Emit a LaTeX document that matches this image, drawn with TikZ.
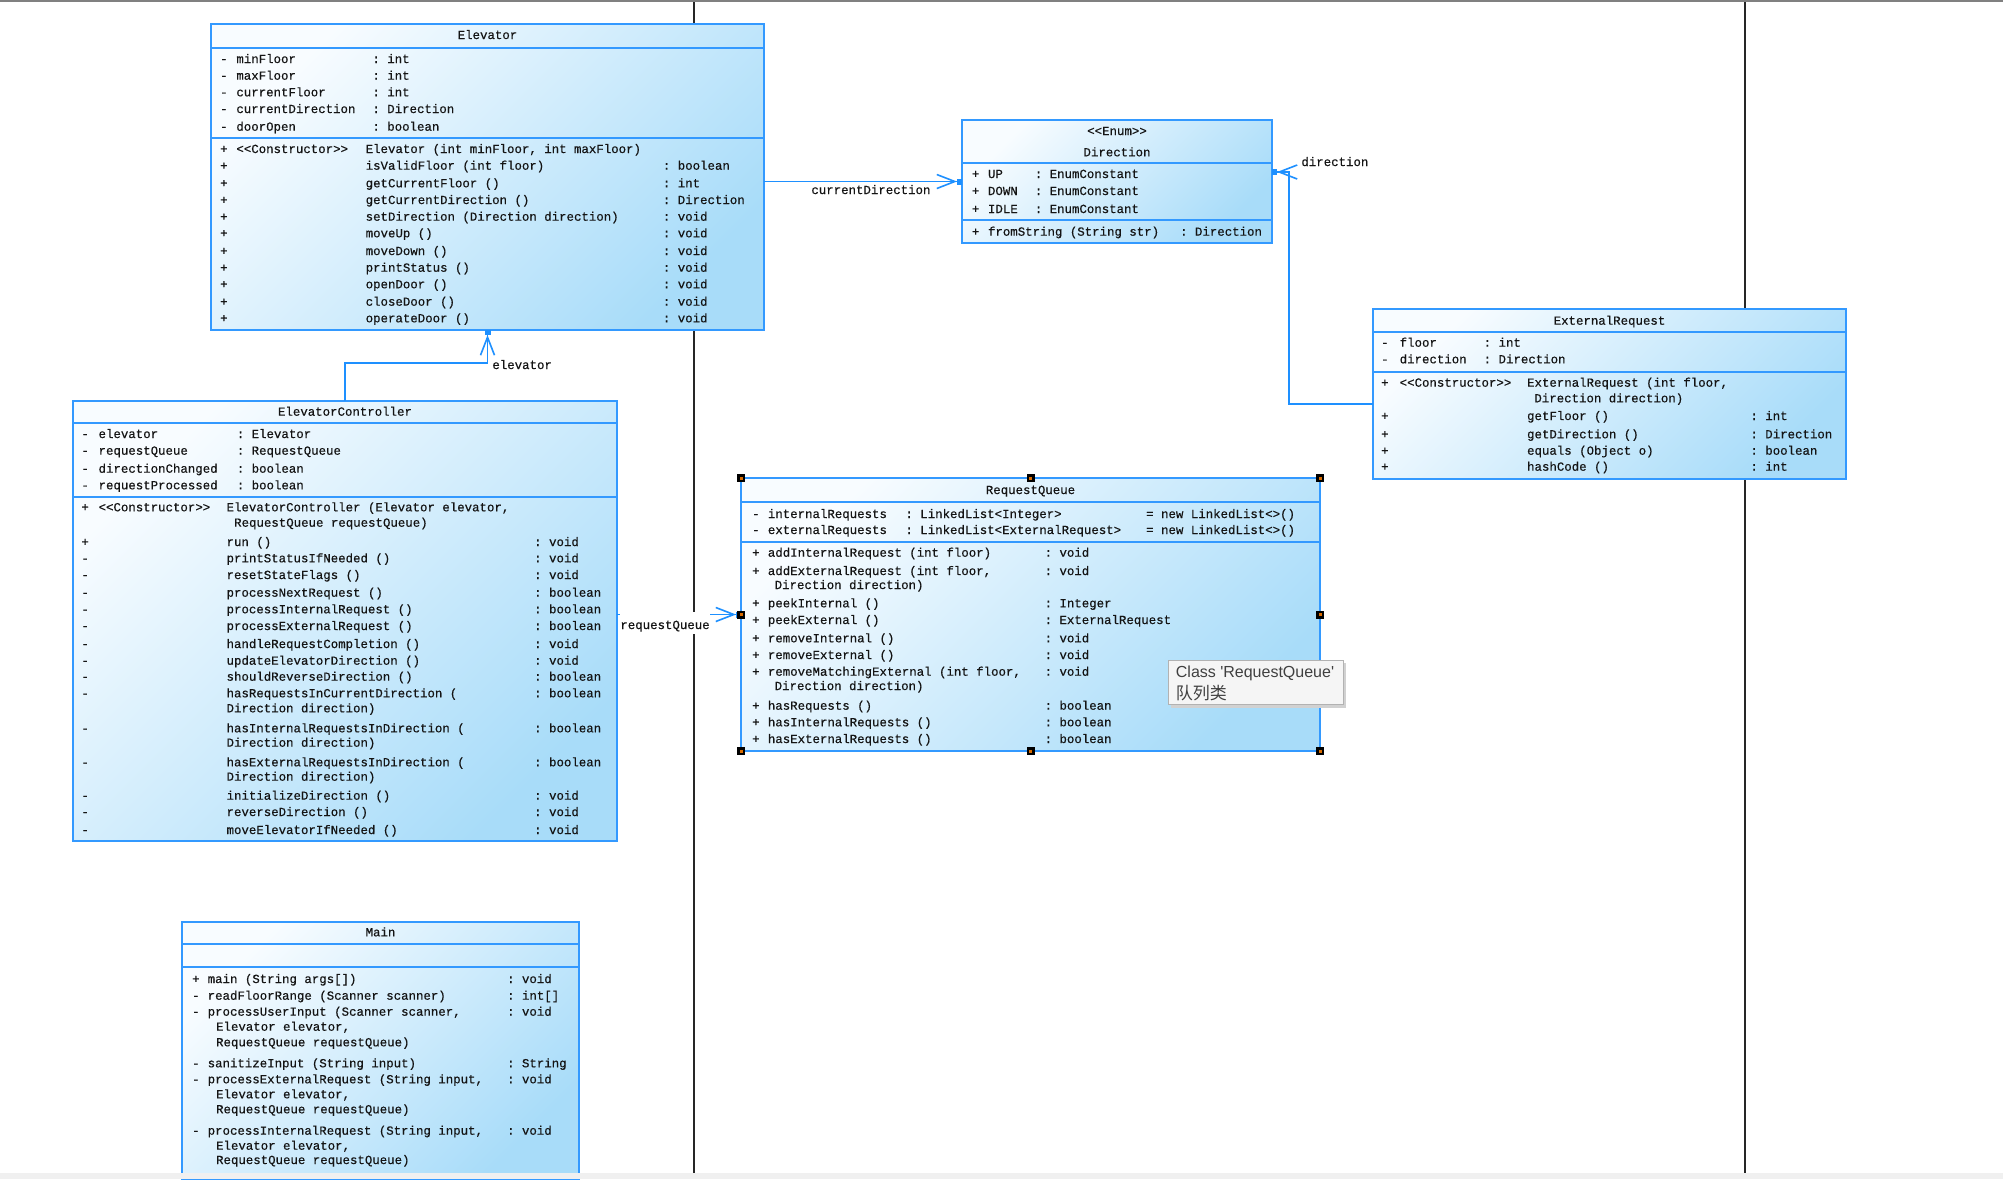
\documentclass[tikz,border=0pt]{standalone}
\usepackage{fontspec}
\setmainfont{Liberation Sans}
\setmonofont{Liberation Mono}[FakeBold=0.4]
\newfontfamily\cjkfont{Noto Sans CJK SC}
\usetikzlibrary{arrows.meta,calc}
\definecolor{ublue}{RGB}{51,153,255}
\definecolor{uline}{RGB}{30,144,255}
\definecolor{ucA}{RGB}{248,252,255}
\definecolor{ucB}{RGB}{168,220,249}
\definecolor{utext}{RGB}{20,20,20}
\newcounter{rowc}
\newcommand\utxt[3]{\stepcounter{rowc}\node[txt] (t\therowc) at (#1,{#2+4}) {#3};}
\newcommand\uttl[3]{\stepcounter{rowc}\node[ttl] (t\therowc) at (#1,{#2+4}) {#3};}
\newcommand\urow[4]{\utxt{\colV}{#1}{#2}\utxt{\colN}{#1}{#3}\ifx\relax#4\relax\else\utxt{\colR}{#1}{#4}\fi}
\begin{document}
\begin{tikzpicture}[x=0.5pt,y=-0.5pt,
  txt/.style={font=\ttfamily\fontsize{6.2}{7}\selectfont, text=utext, anchor=base west, inner sep=0pt},
  ttl/.style={txt, anchor=base},
  classbox/.style={draw=ublue, line width=1pt, top color=ucA, bottom color=ucB, shading angle=45, anchor=north west, inner sep=0pt, outer sep=0pt},
  sepline/.style={draw=ublue, line width=1pt},
  assoc/.style={draw=uline, line width=0.8pt, -{Straight Barb[length=9pt,width=7pt] Square[length=2.5pt,width=3pt]}},
  lbl/.style={txt},
  masklbl/.style={txt, fill=white, text height=8.6pt, text depth=2.5pt},
  vline/.style={draw=black!85, line width=1pt},
  handle/.style={fill=black},
  tipbox/.style={draw=black!30, fill=white!96!black, line width=0.5pt, anchor=north west, inner sep=0pt, minimum width=87.3pt, minimum height=22pt},
  tiptxt/.style={font=\fontsize{8}{9}\selectfont, text=black!75, anchor=base west, inner sep=0pt}
]
\useasboundingbox (0,0) rectangle (2003,1179);
\fill[white] (0,0) rectangle (2003,1179);
\draw[black!50, line width=1pt] (0,1) -- (2003,1);
\draw[vline] (693.5,2) -- (693.5,1173);
\draw[vline] (1745,2) -- (1745,1173);

% ---------------- Elevator
\node[classbox, minimum width=276.5pt, minimum height=153pt] (elev) at (211,24) {};
\draw[sepline] (elev.west |- 0,48) -- (elev.east |- 0,48);
\draw[sepline] (elev.west |- 0,138) -- (elev.east |- 0,138);
\uttl{487.5}{35}{Elevator}
\def\colV{219.7}\def\colN{236}\def\colR{372}
\urow{59}{-}{minFloor}{: int}
\urow{75.7}{-}{maxFloor}{: int}
\urow{92.3}{-}{currentFloor}{: int}
\urow{109}{-}{currentDirection}{: Direction}
\urow{126.7}{-}{doorOpen}{: boolean}
\utxt{219.7}{149}{+}\utxt{236}{149}{<<Constructor>>}\utxt{365.3}{149}{Elevator (int minFloor, int maxFloor)}
\def\colN{365.3}\def\colR{662.5}
\urow{165.7}{+}{isValidFloor (int floor)}{: boolean}
\urow{183.3}{+}{getCurrentFloor ()}{: int}
\urow{200}{+}{getCurrentDirection ()}{: Direction}
\urow{216.7}{+}{setDirection (Direction direction)}{: void}
\urow{233.3}{+}{moveUp ()}{: void}
\urow{251}{+}{moveDown ()}{: void}
\urow{267.7}{+}{printStatus ()}{: void}
\urow{284.3}{+}{openDoor ()}{: void}
\urow{301.7}{+}{closeDoor ()}{: void}
\urow{318.3}{+}{operateDoor ()}{: void}

% ---------------- Direction
\node[classbox, minimum width=155pt, minimum height=61.5pt] (dir) at (962,120) {};
\draw[sepline] (dir.west |- 0,163) -- (dir.east |- 0,163);
\draw[sepline] (dir.west |- 0,220) -- (dir.east |- 0,220);
\uttl{1117}{131}{<<Enum>>}
\uttl{1117}{152.3}{Direction}
\def\colV{971.5}\def\colN{987.6}\def\colR{1034.4}
\urow{174}{+}{UP}{: EnumConstant}
\urow{191}{+}{DOWN}{: EnumConstant}
\urow{209}{+}{IDLE}{: EnumConstant}
\def\colR{1179.7}
\urow{231.7}{+}{fromString (String str)}{: Direction}

% ---------------- ExternalRequest
\node[classbox, minimum width=236.5pt, minimum height=85pt] (ext) at (1373,309) {};
\draw[sepline] (ext.west |- 0,332) -- (ext.east |- 0,332);
\draw[sepline] (ext.west |- 0,372) -- (ext.east |- 0,372);
\uttl{1609.5}{320.7}{ExternalRequest}
\def\colV{1380.7}\def\colN{1399.3}\def\colR{1483.3}
\urow{342.7}{-}{floor}{: int}
\urow{359.3}{-}{direction}{: Direction}
\utxt{1380.7}{382.7}{+}\utxt{1399.3}{382.7}{<<Constructor>>}\utxt{1526.7}{382.7}{ExternalRequest (int floor,}
\utxt{1534}{398.3}{Direction direction)}
\def\colN{1526.7}\def\colR{1750}
\urow{416}{+}{getFloor ()}{: int}
\urow{434.3}{+}{getDirection ()}{: Direction}
\urow{450.7}{+}{equals (Object o)}{: boolean}
\urow{466.7}{+}{hashCode ()}{: int}

% ---------------- ElevatorController
\node[classbox, minimum width=272pt, minimum height=220pt] (ctrl) at (73,401) {};
\draw[sepline] (ctrl.west |- 0,423) -- (ctrl.east |- 0,423);
\draw[sepline] (ctrl.west |- 0,497) -- (ctrl.east |- 0,497);
\uttl{345}{411.7}{ElevatorController}
\def\colV{81}\def\colN{98.2}\def\colR{236.4}
\urow{434}{-}{elevator}{: Elevator}
\urow{450.7}{-}{requestQueue}{: RequestQueue}
\urow{468.7}{-}{directionChanged}{: boolean}
\urow{485.3}{-}{requestProcessed}{: boolean}
\utxt{81}{507.3}{+}\utxt{98.2}{507.3}{<<Constructor>>}\utxt{226.2}{507.3}{ElevatorController (Elevator elevator,}
\utxt{233.8}{522.7}{RequestQueue requestQueue)}
\def\colN{226.2}\def\colR{533.8}
\urow{542}{+}{run ()}{: void}
\urow{558.3}{-}{printStatusIfNeeded ()}{: void}
\urow{575}{-}{resetStateFlags ()}{: void}
\urow{592.7}{-}{processNextRequest ()}{: boolean}
\urow{609.3}{-}{processInternalRequest ()}{: boolean}
\urow{626}{-}{processExternalRequest ()}{: boolean}
\urow{644}{-}{handleRequestCompletion ()}{: void}
\urow{660.7}{-}{updateElevatorDirection ()}{: void}
\urow{676.7}{-}{shouldReverseDirection ()}{: boolean}
\urow{693.3}{-}{hasRequestsInCurrentDirection (}{: boolean}
\utxt{226.2}{708.3}{Direction direction)}
\urow{728.3}{-}{hasInternalRequestsInDirection (}{: boolean}
\utxt{226.2}{742.7}{Direction direction)}
\urow{762.3}{-}{hasExternalRequestsInDirection (}{: boolean}
\utxt{226.2}{776.7}{Direction direction)}
\urow{795.7}{-}{initializeDirection ()}{: void}
\urow{812}{-}{reverseDirection ()}{: void}
\urow{830}{-}{moveElevatorIfNeeded ()}{: void}

% ---------------- RequestQueue
\node[classbox, minimum width=289.5pt, minimum height=136.5pt] (rq) at (741,478) {};
\draw[sepline] (rq.west |- 0,502) -- (rq.east |- 0,502);
\draw[sepline] (rq.west |- 0,542) -- (rq.east |- 0,542);
\uttl{1030.5}{490}{RequestQueue}
\def\colV{751.7}\def\colN{767.5}\def\colR{905}
\urow{514}{-}{internalRequests}{: LinkedList<Integer>}\utxt{1145.8}{514}{= new LinkedList<>()}
\urow{530}{-}{externalRequests}{: LinkedList<ExternalRequest>}\utxt{1145.8}{530}{= new LinkedList<>()}
\def\colR{1044.2}
\urow{552.7}{+}{addInternalRequest (int floor)}{: void}
\urow{571}{+}{addExternalRequest (int floor,}{: void}
\utxt{774.3}{585}{Direction direction)}
\urow{603.3}{+}{peekInternal ()}{: Integer}
\urow{620}{+}{peekExternal ()}{: ExternalRequest}
\urow{638.3}{+}{removeInternal ()}{: void}
\urow{655}{+}{removeExternal ()}{: void}
\urow{671.7}{+}{removeMatchingExternal (int floor,}{: void}
\utxt{774.3}{686}{Direction direction)}
\urow{705.7}{+}{hasRequests ()}{: boolean}
\urow{722.3}{+}{hasInternalRequests ()}{: boolean}
\urow{739}{+}{hasExternalRequests ()}{: boolean}

% ---------------- Main
\node[classbox, minimum width=198.5pt, minimum height=128.5pt] (main) at (182,922) {};
\draw[sepline] (main.west |- 0,943.5) -- (main.east |- 0,943.5);
\draw[sepline] (main.west |- 0,967) -- (main.east |- 0,967);
\uttl{380.5}{932.3}{Main}
\def\colV{191.7}\def\colN{207.3}\def\colR{506.7}
\urow{979}{+}{main (String args[])}{: void}
\urow{995.7}{-}{readFloorRange (Scanner scanner)}{: int[]}
\urow{1011.7}{-}{processUserInput (Scanner scanner,}{: void}
\utxt{215.7}{1026.7}{Elevator elevator,}
\utxt{215.7}{1042.3}{RequestQueue requestQueue)}
\urow{1063.3}{-}{sanitizeInput (String input)}{: String}
\urow{1079.3}{-}{processExternalRequest (String input,}{: void}
\utxt{215.7}{1094.3}{Elevator elevator,}
\utxt{215.7}{1109.3}{RequestQueue requestQueue)}
\urow{1130.7}{-}{processInternalRequest (String input,}{: void}
\utxt{215.7}{1145.7}{Elevator elevator,}
\utxt{215.7}{1160}{RequestQueue requestQueue)}

% ---------------- connectors
\coordinate (dbend) at (1289,172);
\draw[assoc] (elev.east |- dir.west) -- (dir.west);
\draw[assoc] (ctrl.north) -- ++(0,-38) -| (elev.south);
\draw[assoc] (ctrl.east |- rq.west) -- (rq.west);
\draw[assoc] ([yshift=-5pt]ext.west) -| (dbend) -- (dir.east |- dbend);
\node[lbl] (lcur) at (811,194) {currentDirection};
\node[lbl] (lelev) at (492,369) {elevator};
\node[lbl] (ldir) at (1301,166) {direction};
\node[masklbl] (lrq) at (620,629) {requestQueue};

% ---------------- selection handles
\foreach \p in {rq.north west, rq.north, rq.north east, rq.west, rq.east, rq.south west, rq.south, rq.south east}{
  \fill[handle] (\p) ++(-4,-4) rectangle ++(8,8);
  \fill[orange!85!black] (\p) ++(-1.5,-1.5) rectangle ++(3,3);
}

% ---------------- tooltip
\fill[black!18] (1171,663) rectangle (1346,708);
\node[tipbox] (tip) at (1168,660) {};
\node[tiptxt] (tipa) at (1175.5,677) {Class \textquotesingle RequestQueue\textquotesingle};
\node[tiptxt, font=\cjkfont\fontsize{8.5}{9}\selectfont] (tipb) at (1175.5,699) {队列类};

% ---------------- bottom strip
\fill[black!6] (0,1173) rectangle (2003,1179);
\end{tikzpicture}
\end{document}
